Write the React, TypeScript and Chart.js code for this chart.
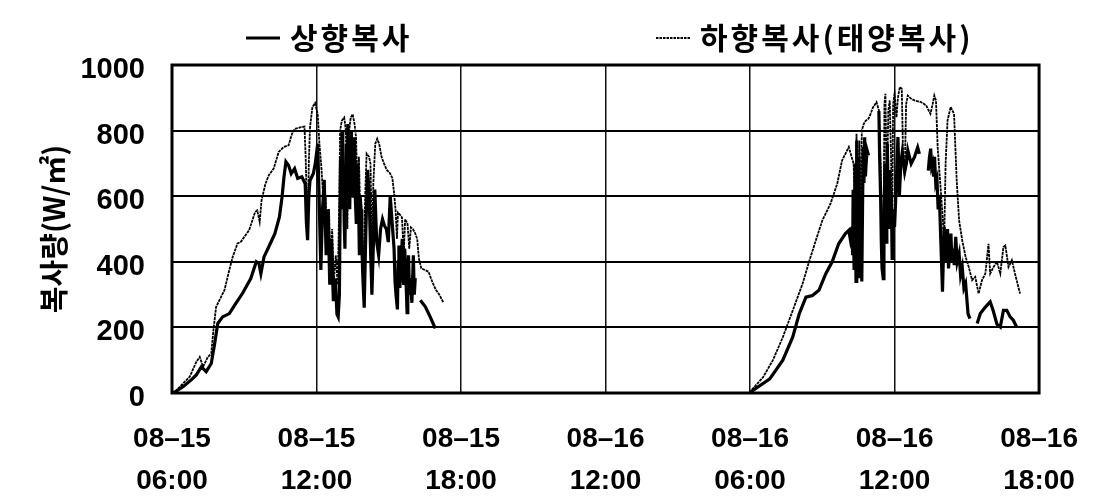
import { useEffect, useRef } from "react";
import { Chart, registerables } from "chart.js";

Chart.register(...registerables);

// [hour on the axis, W/㎡]; hour 0 = 08-15 06:00, hour 24 = 08-16 06:00
type Pt = [number, number | null];

const dateLabels = ["08–15", "08–15", "08–15", "08–16", "08–16", "08–16", "08–16"];
const timeLabels = ["06:00", "12:00", "18:00", "12:00", "06:00", "12:00", "18:00"];
const seriesNames = ["상향복사", "하향복사(태양복사)"];
const yTitle = "복사량(W/㎡)";
const yMin = 0;
const yMax = 1000;
const yStep = 200;

const upwardDay1: Pt[] = [
  [0.0, 0], [0.12, 3], [0.47, 20], [0.8, 40], [1.01, 55], [1.22, 80], [1.42, 65], [1.63, 90],
  [1.77, 150], [1.9, 212], [2.1, 232], [2.38, 242], [2.65, 273], [2.93, 304], [3.27, 349],
  [3.5, 400], [3.61, 395], [3.69, 364], [3.82, 415], [4.02, 446], [4.27, 486], [4.46, 537],
  [4.57, 598], [4.65, 659], [4.73, 705], [4.84, 694], [4.95, 669], [5.09, 684], [5.22, 654],
  [5.39, 659], [5.53, 638], [5.58, 520], [5.63, 466], [5.68, 600], [5.73, 648], [5.87, 669],
  [5.95, 700], [6.05, 760], [6.12, 560], [6.18, 375], [6.25, 560], [6.32, 650], [6.4, 420],
  [6.48, 560], [6.55, 330], [6.62, 470], [6.7, 280], [6.78, 350], [6.85, 240], [6.9, 232],
  [6.95, 300], [7.0, 720], [7.03, 560], [7.06, 800], [7.09, 620], [7.12, 680], [7.15, 520],
  [7.18, 440], [7.21, 640], [7.24, 760], [7.27, 600], [7.3, 820], [7.34, 700], [7.38, 560],
  [7.41, 740], [7.45, 800], [7.48, 640], [7.52, 600], [7.55, 740], [7.58, 780], [7.61, 600],
  [7.65, 520], [7.68, 660], [7.72, 700], [7.75, 560], [7.78, 420], [7.81, 600], [7.85, 560],
  [7.88, 460], [7.92, 360], [7.98, 260], [8.05, 500], [8.12, 680], [8.18, 620], [8.25, 420],
  [8.3, 300], [8.36, 450], [8.42, 620], [8.5, 460], [8.58, 420], [8.66, 500], [8.74, 530],
  [8.82, 510], [8.9, 500], [8.98, 460], [9.06, 600], [9.14, 520], [9.22, 440], [9.26, 340],
  [9.3, 300], [9.36, 255], [9.39, 400], [9.42, 450], [9.46, 320], [9.5, 380], [9.56, 470],
  [9.59, 360], [9.62, 330], [9.66, 440], [9.7, 380], [9.76, 245], [9.79, 330], [9.82, 420],
  [9.86, 300], [9.9, 350], [9.96, 275], [10.02, 420], [10.06, 300], [10.1, 350], [10.15, null],
  [10.31, 283], [10.52, 263], [10.72, 232], [10.93, 197],
];

const upwardDay2: Pt[] = [
  [24.0, 0], [24.1, 7], [24.82, 43], [25.36, 100], [25.77, 170], [26.04, 241], [26.32, 292],
  [26.59, 297], [26.86, 313], [27.14, 363], [27.41, 400], [27.68, 455], [27.96, 486],
  [28.1, 496], [28.16, 470], [28.23, 506], [28.26, 420], [28.28, 620], [28.3, 480],
  [28.32, 380], [28.34, 560], [28.36, 700], [28.38, 480], [28.4, 340], [28.42, 600],
  [28.44, 770], [28.46, 560], [28.48, 450], [28.5, 620], [28.52, 720], [28.54, 500],
  [28.56, 350], [28.58, 480], [28.6, 600], [28.62, 420], [28.64, 340], [28.67, 560],
  [28.7, 750], [28.73, 640], [28.76, 780], [28.79, 660], [28.82, 700], [28.86, 740],
  [28.92, 724], [28.95, null], [29.35, 860], [29.38, 720], [29.42, 600], [29.45, 460],
  [29.48, 380], [29.53, 349], [29.56, 520], [29.6, 700], [29.62, 560], [29.65, 460],
  [29.68, 640], [29.7, 760], [29.73, 620], [29.75, 560], [29.78, 680], [29.8, 500],
  [29.83, 560], [29.85, 620], [29.88, 520], [29.9, 410], [29.93, 500], [29.95, 560],
  [30.0, 506], [30.08, 648], [30.14, 780], [30.2, 600], [30.26, 700], [30.32, 734],
  [30.42, 674], [30.49, 700], [30.55, 740], [30.69, 699], [30.83, 720], [30.96, 749],
  [31.03, 729], [31.1, null], [31.4, 678], [31.45, 720], [31.5, 745], [31.54, 690],
  [31.58, 700], [31.62, 660], [31.66, 720], [31.71, 640], [31.76, 653], [31.81, 560],
  [31.86, 600], [31.92, 465], [31.99, 309], [32.06, 506], [32.1, 400], [32.14, 430],
  [32.2, 500], [32.24, 380], [32.28, 420], [32.34, 486], [32.38, 400], [32.42, 440],
  [32.48, 390], [32.54, 476], [32.6, 400], [32.68, 425], [32.74, 360], [32.81, 384],
  [32.88, 320], [32.95, 334], [33.05, 242], [33.13, 227], [33.25, null],
  [33.43, 212], [33.56, 242], [33.77, 262], [33.97, 278], [34.1, 250], [34.25, 210],
  [34.39, 201], [34.52, 252], [34.66, 252], [34.8, 232], [34.93, 222], [35.07, 201],
];

const downwardDay1: Pt[] = [
  [0.0, 0], [0.12, 3], [0.47, 30], [0.74, 50], [1.01, 95], [1.15, 110], [1.29, 80],
  [1.49, 110], [1.63, 120], [1.72, 192], [1.83, 262], [1.97, 283], [2.18, 314], [2.38, 375],
  [2.52, 415], [2.72, 456], [2.86, 461], [3.0, 476], [3.2, 496], [3.34, 527], [3.45, 552],
  [3.54, 557], [3.64, 522], [3.72, 588], [3.88, 638], [4.02, 664], [4.22, 684], [4.43, 735],
  [4.64, 750], [4.84, 755], [4.98, 790], [5.09, 805], [5.32, 810], [5.5, 812], [5.55, 719],
  [5.63, 476], [5.68, 700], [5.73, 810], [5.83, 872], [5.94, 884], [6.05, 850], [6.12, 760],
  [6.2, 690], [6.26, 620], [6.32, 520], [6.38, 600], [6.45, 430], [6.52, 560], [6.58, 380],
  [6.65, 500], [6.72, 340], [6.8, 420], [6.88, 330], [6.94, 560], [6.98, 800], [7.05, 830],
  [7.15, 840], [7.22, 800], [7.28, 500], [7.34, 790], [7.42, 840], [7.5, 850], [7.58, 820],
  [7.64, 780], [7.7, 620], [7.76, 720], [7.82, 540], [7.9, 470], [7.96, 400], [8.02, 600],
  [8.08, 730], [8.18, 720], [8.24, 700], [8.3, 460], [8.36, 640], [8.44, 760], [8.52, 775],
  [8.6, 760], [8.7, 720], [8.8, 700], [8.92, 680], [9.05, 670], [9.15, 655], [9.22, 610],
  [9.28, 560], [9.34, 470], [9.38, 550], [9.45, 545], [9.55, 535], [9.62, 420], [9.68, 530],
  [9.78, 515], [9.85, 440], [9.92, 505], [10.0, 500], [10.08, 490], [10.18, 470],
  [10.25, 410], [10.35, 380], [10.5, 375], [10.65, 370], [10.8, 340], [10.95, 315],
  [11.1, 300], [11.27, 275],
];

const downwardDay2: Pt[] = [
  [24.0, 0], [24.1, 12], [24.54, 48], [24.95, 100], [25.36, 170], [25.77, 251], [26.18, 333],
  [26.45, 400], [26.73, 465], [27.0, 526], [27.34, 577], [27.62, 638], [27.82, 709],
  [28.1, 750], [28.2, 724], [28.3, 699], [28.36, 560], [28.42, 790], [28.48, 500],
  [28.54, 770], [28.6, 400], [28.64, 801], [28.72, 820], [28.8, 830], [28.91, 836],
  [29.0, 850], [29.1, 870], [29.25, 887], [29.35, 862], [29.42, 700], [29.48, 500],
  [29.53, 360], [29.58, 880], [29.62, 912], [29.68, 600], [29.74, 860], [29.8, 892],
  [29.86, 700], [29.9, 450], [29.94, 880], [30.0, 912], [30.08, 840], [30.14, 900],
  [30.22, 933], [30.3, 927], [30.36, 700], [30.42, 664], [30.48, 880], [30.55, 907],
  [30.69, 897], [30.83, 892], [31.1, 887], [31.31, 877], [31.49, 851], [31.58, 880],
  [31.65, 907], [31.72, 892], [31.79, 749], [31.92, 617], [32.06, 465], [32.12, 700],
  [32.2, 831], [32.33, 872], [32.47, 851], [32.58, 648], [32.68, 526], [32.81, 465],
  [32.95, 415], [33.08, 384], [33.22, 344], [33.35, 354], [33.49, 303], [33.63, 344],
  [33.77, 364], [33.9, 455], [33.97, 364], [34.11, 384], [34.25, 400], [34.39, 364],
  [34.52, 445], [34.6, 450], [34.73, 384], [34.87, 405], [35.0, 364], [35.21, 303],
];

const toPoints = (a: Pt[], b: Pt[]) =>
  [...a, [18, null] as Pt, ...b].map(([x, y]) => ({ x, y }));

const W = 1096;
const H = 485;
const TICK_FONT = "'Liberation Sans', Arial, sans-serif";
const KR_FONT = "'Noto Sans CJK KR', 'Noto Sans', sans-serif";

// Legend drawn above the plot, plus a heavy frame around the plot area
const decorations = {
  id: "decorations",
  afterDraw(chart: Chart) {
    const { ctx, chartArea } = chart;
    ctx.save();
    ctx.strokeStyle = "#000";
    ctx.lineWidth = 3;
    ctx.strokeRect(chartArea.left, chartArea.top, chartArea.right - chartArea.left, chartArea.bottom - chartArea.top);

    const y = 30;
    ctx.fillStyle = "#000";
    ctx.font = `bold 30px ${KR_FONT}`;
    ctx.textBaseline = "middle";
    (ctx as any).letterSpacing = "3px";

    ctx.lineWidth = 3;
    ctx.beginPath();
    ctx.moveTo(238, y);
    ctx.lineTo(272, y);
    ctx.stroke();
    ctx.fillText(seriesNames[0], 282, y);

    ctx.lineWidth = 1.8;
    ctx.setLineDash([2.5, 1]);
    ctx.beginPath();
    ctx.moveTo(648, y);
    ctx.lineTo(682, y);
    ctx.stroke();
    ctx.setLineDash([]);
    ctx.fillText(seriesNames[1], 692, y);
    ctx.restore();
  },
};

export default function App() {
  const ref = useRef<HTMLCanvasElement | null>(null);

  useEffect(() => {
    if (!ref.current) return;
    const chart = new Chart(ref.current, {
      type: "line",
      data: {
        datasets: [
          {
            label: seriesNames[0],
            data: toPoints(upwardDay1, upwardDay2),
            borderColor: "#000",
            borderWidth: 3.2,
            pointRadius: 0,
            tension: 0,
            spanGaps: false,
          },
          {
            label: seriesNames[1],
            data: toPoints(downwardDay1, downwardDay2),
            borderColor: "#000",
            borderWidth: 1.8,
            borderDash: [3, 0.8],
            pointRadius: 0,
            tension: 0,
            spanGaps: false,
          },
        ],
      },
      options: {
        responsive: false,
        animation: false,
        devicePixelRatio: 1,
        layout: { padding: { top: 57, right: 55, left: 0, bottom: 0 } },
        plugins: { legend: { display: false }, tooltip: { enabled: false } },
        scales: {
          x: {
            type: "linear",
            min: 0,
            max: 36,
            afterFit: (s: any) => {
              s.height = 100;
            },
            grid: { color: "#111", lineWidth: 1.5, drawTicks: false },
            border: { display: false },
            ticks: {
              stepSize: 6,
              padding: 26,
              color: "#000",
              maxRotation: 0,
              autoSkip: false,
              font: { family: TICK_FONT, size: 28, weight: "bold", lineHeight: 1.48 },
              callback: (v: any) => {
                const i = Math.round(Number(v) / 6);
                return [dateLabels[i], timeLabels[i]];
              },
            },
          },
          y: {
            min: yMin,
            max: yMax,
            afterFit: (s: any) => {
              s.width = 164;
            },
            grid: { color: "#000", lineWidth: 2, drawTicks: false },
            border: { display: false },
            title: {
              display: true,
              text: yTitle,
              color: "#000",
              font: { family: KR_FONT, size: 29, weight: "bold", lineHeight: 1.2 },
              padding: { top: 29, bottom: 0 },
            },
            ticks: {
              stepSize: yStep,
              padding: 27,
              labelOffset: 5,
              color: "#000",
              font: { family: TICK_FONT, size: 29, weight: "bold" },
              callback: (v: any) => String(v),
            },
          },
        },
      },
      plugins: [decorations],
    });
    return () => chart.destroy();
  }, []);

  return (
    <div style={{ width: W, height: H, background: "#fff" }}>
      <canvas ref={ref} width={W} height={H} style={{ display: "block" }} />
    </div>
  );
}
